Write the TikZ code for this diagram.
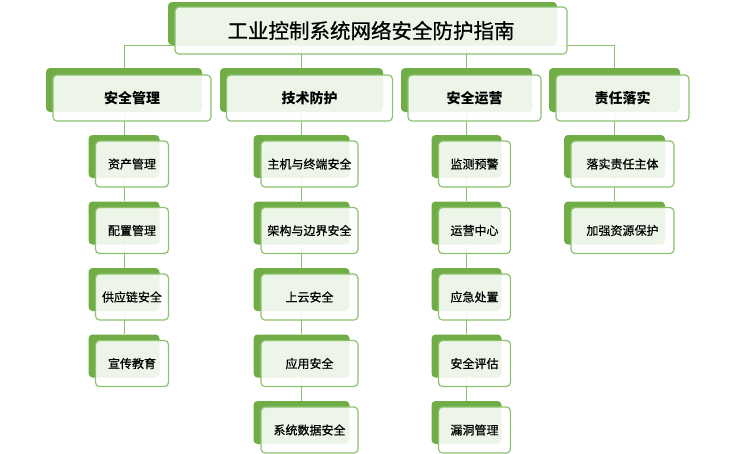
\documentclass[tikz,border=0pt]{standalone}
\usepackage{fontspec}
\newfontfamily\cjk{Noto Sans CJK SC}
\newfontfamily\cjkmid[FakeBold=0.6]{Noto Sans CJK SC}
\usetikzlibrary{backgrounds}

\definecolor{leafgreen}{HTML}{70AD47}
\definecolor{rimgreen}{HTML}{8DC26F}
\definecolor{wiregreen}{HTML}{8DBF70}

\tikzset{
  back/.style={fill=leafgreen, rounded corners=4pt, inner sep=0pt},
  front/.style={draw=rimgreen, line width=1.2pt, fill=white, fill opacity=0.88, text opacity=1,
    rounded corners=4pt, inner sep=0pt},
  topback/.style={back, minimum width=389pt, minimum height=43pt},
  topfront/.style={front, minimum width=392pt, minimum height=47pt, font=\cjkmid\fontsize{20.5}{24}\selectfont},
  headback/.style={back, minimum width=#1, minimum height=44pt},
  headfront/.style={front, minimum width=#1, minimum height=46pt, font=\cjk\bfseries\fontsize{14}{16}\selectfont},
  itemback/.style={back, minimum width=#1, minimum height=43pt},
  itemfront/.style={front, minimum width=#1, minimum height=46pt, font=\cjkmid\fontsize{12}{14}\selectfont},
  wire/.style={wiregreen, line width=1pt},
}

\begin{document}
\begin{tikzpicture}[x=1pt,y=-1pt]
	\useasboundingbox (0,0) rectangle (745,453);

	% title
	\node[topback] (t-b) at (362.5,23.5) {};
	\node[topfront] (t) at ([shift={(8.5,7)}]t-b) {工业控制系统网络安全防护指南};

	% level 1
	\node[headback=156pt] (m-b) at (124,90) {};
	\node[headfront=158pt] (m) at ([shift={(8,8)}]m-b) {安全管理};
	\node[headback=163pt] (p-b) at (301.5,90) {};
	\node[headfront=166pt] (p) at ([shift={(8,8)}]p-b) {技术防护};
	\node[headback=131pt] (o-b) at (466.5,90) {};
	\node[headfront=133pt] (o) at ([shift={(8,8)}]o-b) {安全运营};
	\node[headback=131pt] (d-b) at (614.5,90) {};
	\node[headfront=133pt] (d) at ([shift={(8,8)}]d-b) {责任落实};

	% 安全管理 items
	\node[itemback=71pt] (m1-b) at (124,156.5) {};
	\node[itemfront=73pt] (m1) at ([shift={(8,7.5)}]m1-b) {资产管理};
	\node[itemback=71pt] (m2-b) at (124,223) {};
	\node[itemfront=73pt] (m2) at ([shift={(8,7.5)}]m2-b) {配置管理};
	\node[itemback=71pt] (m3-b) at (124,289.5) {};
	\node[itemfront=73pt] (m3) at ([shift={(8,7.5)}]m3-b) {供应链安全};
	\node[itemback=71pt] (m4-b) at (124,356) {};
	\node[itemfront=73pt] (m4) at ([shift={(8,7.5)}]m4-b) {宣传教育};

	% 技术防护 items
	\node[itemback=96pt] (p1-b) at (301.5,156.5) {};
	\node[itemfront=97pt] (p1) at ([shift={(8,7.5)}]p1-b) {主机与终端安全};
	\node[itemback=96pt] (p2-b) at (301.5,223) {};
	\node[itemfront=97pt] (p2) at ([shift={(8,7.5)}]p2-b) {架构与边界安全};
	\node[itemback=96pt] (p3-b) at (301.5,289.5) {};
	\node[itemfront=97pt] (p3) at ([shift={(8,7.5)}]p3-b) {上云安全};
	\node[itemback=96pt] (p4-b) at (301.5,356) {};
	\node[itemfront=97pt] (p4) at ([shift={(8,7.5)}]p4-b) {应用安全};
	\node[itemback=96pt] (p5-b) at (301.5,422.5) {};
	\node[itemfront=97pt] (p5) at ([shift={(8,7.5)}]p5-b) {系统数据安全};

	% 安全运营 items
	\node[itemback=70pt] (o1-b) at (466.5,156.5) {};
	\node[itemfront=72pt] (o1) at ([shift={(8,7.5)}]o1-b) {监测预警};
	\node[itemback=70pt] (o2-b) at (466.5,223) {};
	\node[itemfront=72pt] (o2) at ([shift={(8,7.5)}]o2-b) {运营中心};
	\node[itemback=70pt] (o3-b) at (466.5,289.5) {};
	\node[itemfront=72pt] (o3) at ([shift={(8,7.5)}]o3-b) {应急处置};
	\node[itemback=70pt] (o4-b) at (466.5,356) {};
	\node[itemfront=72pt] (o4) at ([shift={(8,7.5)}]o4-b) {安全评估};
	\node[itemback=70pt] (o5-b) at (466.5,422.5) {};
	\node[itemfront=72pt] (o5) at ([shift={(8,7.5)}]o5-b) {漏洞管理};

	% 责任落实 items
	\node[itemback=101pt] (d1-b) at (614.5,156.5) {};
	\node[itemfront=103pt] (d1) at ([shift={(8,7.5)}]d1-b) {落实责任主体};
	\node[itemback=101pt] (d2-b) at (614.5,223) {};
	\node[itemfront=103pt] (d2) at ([shift={(8,7.5)}]d2-b) {加强资源保护};

	% connectors
	\begin{scope}[on background layer]
		\draw[wire] (m-b.north) |- (t-b.south);
		\draw[wire] (p-b.north) |- (t-b.south);
		\draw[wire] (o-b.north) |- (t-b.south);
		\draw[wire] (d-b.north) |- (t-b.south);
		\draw[wire] (m-b) -- (m1-b) -- (m2-b) -- (m3-b) -- (m4-b);
		\draw[wire] (p-b) -- (p1-b) -- (p2-b) -- (p3-b) -- (p4-b) -- (p5-b);
		\draw[wire] (o-b) -- (o1-b) -- (o2-b) -- (o3-b) -- (o4-b) -- (o5-b);
		\draw[wire] (d-b) -- (d1-b) -- (d2-b);
	\end{scope}
\end{tikzpicture}
\end{document}
